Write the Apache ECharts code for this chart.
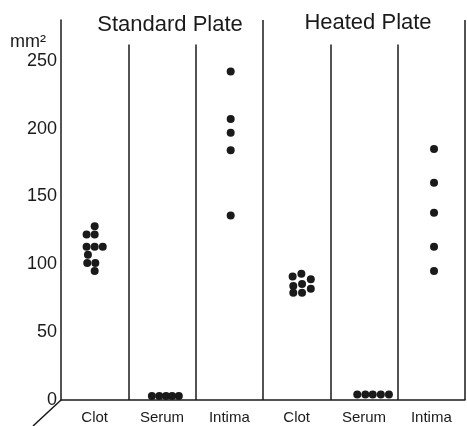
<!DOCTYPE html>
<html>
<head>
<meta charset="utf-8">
<script src="https://cdn.jsdelivr.net/npm/echarts@6/dist/echarts.min.js"></script>
<style>
html,body{margin:0;padding:0;background:#fff;}
#chart{width:467px;height:426px;}
</style>
</head>
<body>
<div id="chart"></div>
<script>
// ---- data ----
const categories = ['Clot', 'Serum', 'Intima', 'Clot', 'Serum', 'Intima'];
const yTicks = [0, 50, 100, 150, 200, 250];
const groupTitles = ['Standard Plate', 'Heated Plate'];

const stdClot = [128, 122, 122, 113, 113, 113, 107, 101, 101, 95];
const stdClotOffset = [0, -0.12, 0, -0.12, 0, 0.12, -0.1, -0.11, 0.01, 0];
const stdSerum = [3, 3, 3, 3, 3];
const stdSerumOffset = [-0.15, -0.04, 0.06, 0.15, 0.25];
const stdIntima = [242, 207, 197, 184, 136];
const stdIntimaOffset = [0.02, 0.02, 0.02, 0.02, 0.02];

const heatClot = [91, 93, 89, 84, 85.5, 82, 79, 79];
const heatClotOffset = [-0.06, 0.07, 0.21, -0.05, 0.08, 0.21, -0.05, 0.08];
const heatSerum = [4, 4, 4, 4, 4];
const heatSerumOffset = [-0.1, 0.02, 0.13, 0.25, 0.37];
const heatIntima = [185, 160, 138, 113, 95];
const heatIntimaOffset = [0.04, 0.04, 0.04, 0.04, 0.04];

const groups = [
  [0, stdClot, stdClotOffset],
  [1, stdSerum, stdSerumOffset],
  [2, stdIntima, stdIntimaOffset],
  [3, heatClot, heatClotOffset],
  [4, heatSerum, heatSerumOffset],
  [5, heatIntima, heatIntimaOffset]
];

// separator lines between columns: [boundary, top value]
const separators = [[0.5, 262], [1.5, 262], [2.5, 280], [3.5, 262], [4.5, 262], [5.5, 280]];

const points = [];
groups.forEach(([ci, vals, offs]) => {
  vals.forEach((v, i) => points.push([ci + offs[i], v]));
});

const ink = '#1a1a1a';
const font = "'Liberation Sans', Arial, Helvetica, sans-serif";

const chart = echarts.init(document.getElementById('chart'), null, {renderer: 'canvas'});
chart.setOption({
  backgroundColor: '#fff',
  animation: false,
  grid: {left: 61, right: 2, top: 20, bottom: 26},
  xAxis: [
    {
      type: 'category',
      data: categories,
      boundaryGap: true,
      axisLine: {show: true, onZero: false, lineStyle: {color: ink, width: 1.5}},
      axisTick: {show: false},
      splitLine: {show: false},
      axisLabel: {color: ink, fontSize: 15, fontFamily: font, margin: 10}
    },
    {
      type: 'value',
      min: -0.5,
      max: 5.5,
      show: false,
      position: 'bottom',
      axisLine: {onZero: false}
    }
  ],
  yAxis: {
    type: 'value',
    min: 0,
    max: 280,
    interval: 50,
    axisLine: {show: true, onZero: false, lineStyle: {color: ink, width: 1.5}},
    axisTick: {show: false},
    splitLine: {show: false},
    axisLabel: {
      color: ink, fontSize: 18, fontFamily: font, margin: 4,
      showMaxLabel: false,
      formatter: v => (yTicks.indexOf(v) >= 0 ? String(v) : '')
    }
  },
  series: [
    {
      type: 'scatter',
      xAxisIndex: 1,
      data: points,
      symbol: 'circle',
      symbolSize: 8,
      itemStyle: {color: ink, opacity: 1},
      silent: true,
      markLine: {
        silent: true,
        symbol: 'none',
        label: {show: false},
        lineStyle: {color: ink, width: 1.5, type: 'solid'},
        data: separators.map(([x, top]) => [{coord: [x, 0]}, {coord: [x, top]}])
      }
    }
  ],
  graphic: [
    {type: 'text', left: 10, top: 33, style: {text: 'mm²', fontSize: 18, fontFamily: font, fill: ink}},
    {type: 'text', x: 170, y: 25, style: {text: groupTitles[0], fontSize: 22, fontFamily: font, fill: ink, textAlign: 'center', textVerticalAlign: 'middle'}},
    {type: 'text', x: 368, y: 23, style: {text: groupTitles[1], fontSize: 22, fontFamily: font, fill: ink, textAlign: 'center', textVerticalAlign: 'middle'}},
    {type: 'line', shape: {x1: 61, y1: 400, x2: 33, y2: 426}, style: {stroke: ink, lineWidth: 1.5}}
  ]
});
</script>
</body>
</html>
